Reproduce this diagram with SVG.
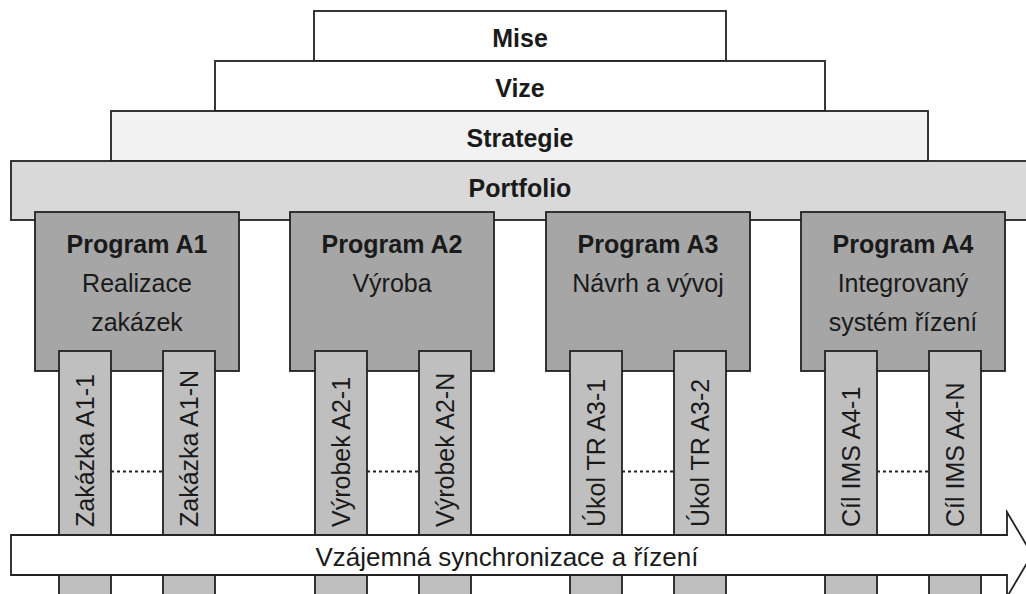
<svg xmlns="http://www.w3.org/2000/svg" width="1026" height="594" viewBox="0 0 1026 594">
<style>
.box{stroke:#222;stroke-width:1.8}
.t{font-family:"Liberation Sans",Arial,sans-serif;font-size:25px;fill:#1a1a1a;text-anchor:middle}
.b{font-weight:bold}
.v{font-family:"Liberation Sans",Arial,sans-serif;font-size:25px;fill:#1a1a1a}
.dot{stroke:#222;stroke-width:1.8;stroke-dasharray:3 3;fill:none}
</style>
<rect width="1026" height="594" fill="#fff"/>
<g id="mise"><rect class="box" x="314" y="11" width="412" height="50" fill="#fff"/><text class="t b" x="520" y="46.5">Mise</text></g>
<g id="vize"><rect class="box" x="215" y="61" width="610" height="50" fill="#fff"/><text class="t b" x="520" y="96.5">Vize</text></g>
<g id="strategie"><rect class="box" x="111" y="111" width="817" height="50" fill="#f2f2f2"/><text class="t b" x="520" y="146.5">Strategie</text></g>
<g id="portfolio"><rect class="box" x="11" y="161" width="1025" height="59" fill="#d9d9d9"/><text class="t b" x="520" y="196.5">Portfolio</text></g>

<g id="programA1"><rect class="box" x="35" y="212" width="204" height="159" fill="#a6a6a6"/><text class="t b" x="137" y="253">Program A1</text><text class="t" x="137" y="292">Realizace</text><text class="t" x="137" y="331">zakázek</text></g>
<g id="programA2"><rect class="box" x="290" y="212" width="204" height="159" fill="#a6a6a6"/><text class="t b" x="392" y="253">Program A2</text><text class="t" x="392" y="292">Výroba</text></g>
<g id="programA3"><rect class="box" x="546" y="212" width="204" height="159" fill="#a6a6a6"/><text class="t b" x="648" y="253">Program A3</text><text class="t" x="648" y="292">Návrh a vývoj</text></g>
<g id="programA4"><rect class="box" x="801" y="212" width="204" height="159" fill="#a6a6a6"/><text class="t b" x="903" y="253">Program A4</text><text class="t" x="903" y="292">Integrovaný</text><text class="t" x="903" y="331">systém řízení</text></g>

<g id="barA1-1"><rect class="box" x="59" y="351" width="52" height="250" fill="#bfbfbf"/><text class="v" transform="translate(93.5 527) rotate(-90)">Zakázka A1-1</text></g>
<g id="barA1-N"><rect class="box" x="163" y="351" width="52" height="250" fill="#bfbfbf"/><text class="v" transform="translate(197.5 527) rotate(-90)">Zakázka A1-N</text></g>
<g id="barA2-1"><rect class="box" x="315" y="351" width="52" height="250" fill="#bfbfbf"/><text class="v" transform="translate(349.5 527) rotate(-90)">Výrobek A2-1</text></g>
<g id="barA2-N"><rect class="box" x="419" y="351" width="52" height="250" fill="#bfbfbf"/><text class="v" transform="translate(453.5 527) rotate(-90)">Výrobek A2-N</text></g>
<g id="barA3-1"><rect class="box" x="570" y="351" width="52" height="250" fill="#bfbfbf"/><text class="v" transform="translate(604.5 527) rotate(-90)">Úkol TR A3-1</text></g>
<g id="barA3-2"><rect class="box" x="674" y="351" width="52" height="250" fill="#bfbfbf"/><text class="v" transform="translate(708.5 527) rotate(-90)">Úkol TR A3-2</text></g>
<g id="barA4-1"><rect class="box" x="825" y="351" width="52" height="250" fill="#bfbfbf"/><text class="v" transform="translate(859.5 527) rotate(-90)">Cíl IMS A4-1</text></g>
<g id="barA4-N"><rect class="box" x="929" y="351" width="52" height="250" fill="#bfbfbf"/><text class="v" transform="translate(963.5 527) rotate(-90)">Cíl IMS A4-N</text></g>

<g id="connectors">
<line class="dot" x1="111" y1="471.5" x2="163" y2="471.5"/>
<line class="dot" x1="367" y1="471.5" x2="419" y2="471.5"/>
<line class="dot" x1="622" y1="471.5" x2="674" y2="471.5"/>
<line class="dot" x1="877" y1="471.5" x2="929" y2="471.5"/>
</g>

<g id="sync">
<path class="box" d="M11 535 H1007 V512 L1032 554.5 L1007 597 V575 H11 Z" fill="#fff"/>
<text class="t" x="507" y="566" style="font-size:26px">Vzájemná synchronizace a řízení</text>
</g>
</svg>
